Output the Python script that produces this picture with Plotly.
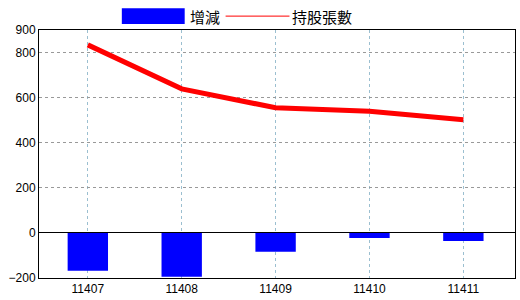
import plotly.graph_objects as go

months = ["11407", "11408", "11409", "11410", "11411"]
change = [-168, -194, -84, -23, -36]
holdings = [834, 639, 555, 540, 502]
y_ticks = [-200, 0, 200, 400, 600, 800, 900]
bar_name = "增減"
line_name = "持股張數"

fig = go.Figure()
fig.add_trace(go.Bar(x=months, y=change, name=bar_name, marker=dict(color="#0000FF", line=dict(width=0)),
                     width=0.43, showlegend=False))
fig.add_trace(go.Scatter(x=months, y=holdings, name=line_name, mode="lines",
                         line=dict(color="#FF0000", width=5), showlegend=False))

font_cjk = "Noto Sans CJK TC"
# custom legend
fig.add_shape(type="rect", xref="paper", yref="paper", x0=(122-39)/477, x1=(185-39)/477,
              y0=(280-24)/250, y1=(280-8)/250, fillcolor="#0000FF", line=dict(width=0))
fig.add_annotation(xref="paper", yref="paper", x=(188-39)/477, y=(280-16)/250, text=bar_name,
                   showarrow=False, xanchor="left", yanchor="middle", font=dict(family=font_cjk, size=15, color="black"))
fig.add_shape(type="line", xref="paper", yref="paper", x0=(226-39)/477, x1=(290-39)/477,
              y0=(280-16)/250, y1=(280-16)/250, line=dict(color="#FF0000", width=1))
fig.add_annotation(xref="paper", yref="paper", x=(291-39)/477, y=(280-16)/250, text=line_name,
                   showarrow=False, xanchor="left", yanchor="middle", font=dict(family=font_cjk, size=15, color="black"))

fig.update_layout(
    width=520, height=300,
    margin=dict(l=39, r=4, t=30, b=20),
    paper_bgcolor="white", plot_bgcolor="white",
    font=dict(family="Liberation Sans", size=12, color="black"),
    xaxis=dict(range=[-0.52, 4.55], showgrid=True, gridcolor="#9BBFD0", griddash="dot", gridwidth=1,
               showline=True, linecolor="black", linewidth=1, mirror=True, ticks="", tickfont=dict(size=12)),
    yaxis=dict(range=[-200, 900], tickvals=y_ticks, showgrid=True, gridcolor="#999999", griddash="dot",
               gridwidth=1, zeroline=True, zerolinecolor="black", zerolinewidth=1,
               showline=True, linecolor="black", linewidth=1, mirror=True, ticks="", tickfont=dict(size=12)),
    bargap=0.57,
)
fig.write_html("out.html")
